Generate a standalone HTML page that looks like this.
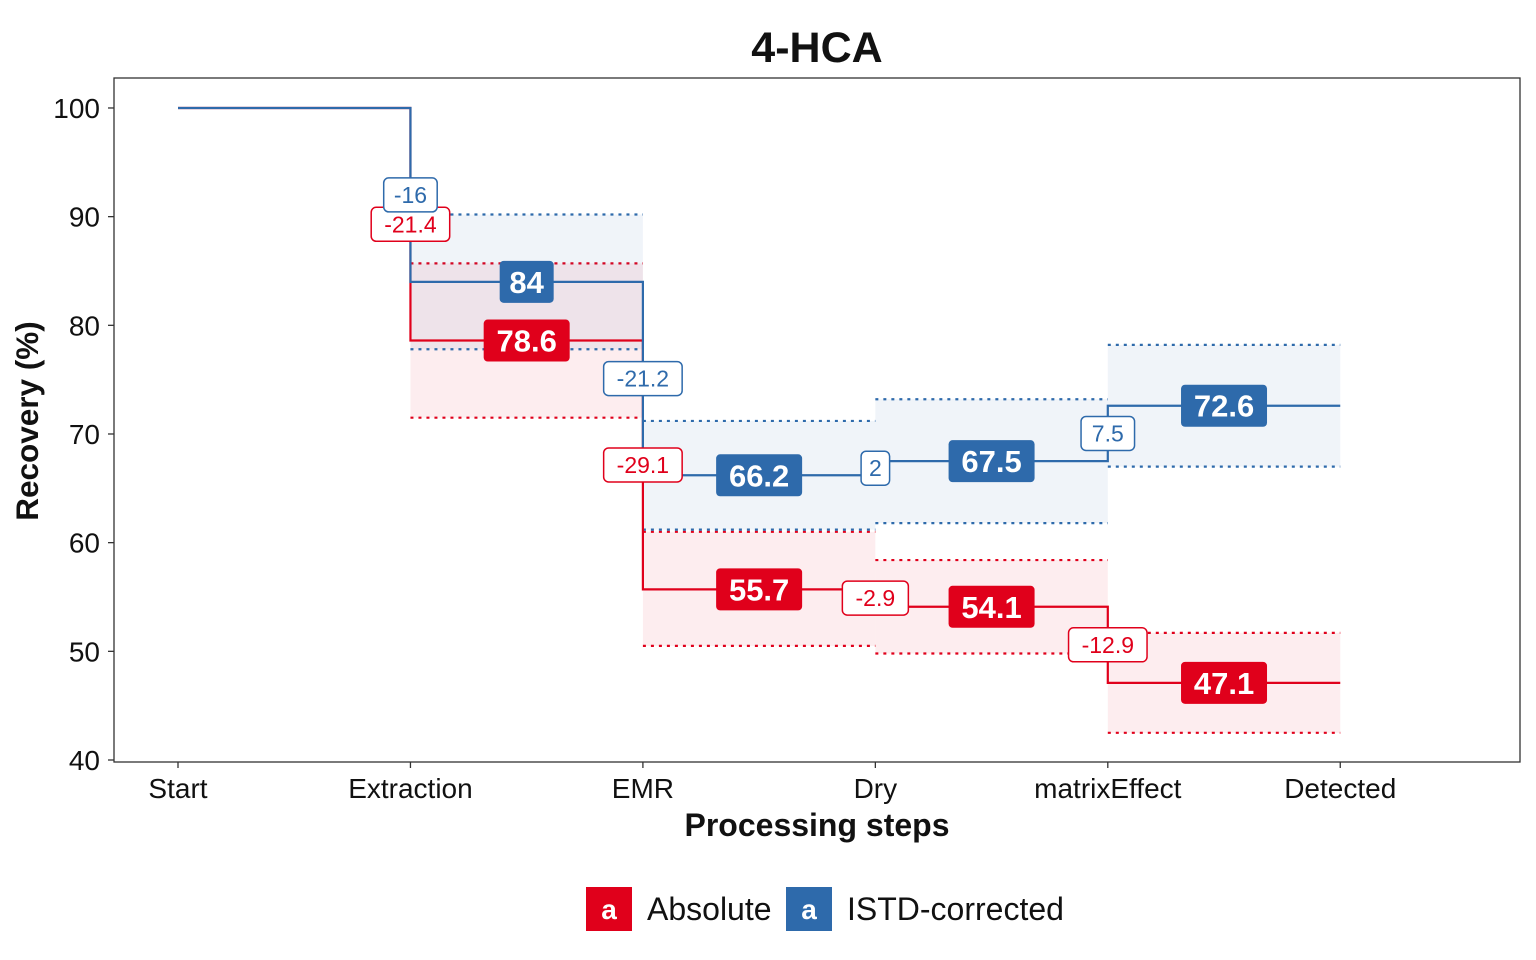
<!DOCTYPE html>
<html><head><meta charset="utf-8"><style>
html,body{margin:0;padding:0;background:#fff;}
svg{display:block;font-family:"Liberation Sans",Arial,sans-serif;}
</style></head><body>
<svg id="chart" width="1536" height="960" viewBox="0 0 1536 960">
<text x="817" y="62" text-anchor="middle" font-size="43" font-weight="bold" fill="#111">4-HCA</text>
<rect x="114" y="78" width="1406" height="684" fill="#fff" stroke="#333" stroke-width="1.3"/>
<g id="ribbons"></g><g id="lines"></g><g id="labels"></g><g id="axes"></g>
<text transform="translate(38,421) rotate(-90)" text-anchor="middle" font-size="31.5" font-weight="bold" fill="#111">Recovery (%)</text>
<text x="817" y="836" text-anchor="middle" font-size="32" font-weight="bold" fill="#111">Processing steps</text>
<g>
<g><rect x="586" y="887" width="46" height="44" fill="#E0001B"/><text x="609" y="919" text-anchor="middle" font-size="28" font-weight="bold" fill="#fff">a</text><text x="647" y="920" font-size="32" fill="#111">Absolute</text></g>
<g><rect x="786" y="887" width="46" height="44" fill="#2E6AAB"/><text x="809" y="919" text-anchor="middle" font-size="28" font-weight="bold" fill="#fff">a</text><text x="847" y="920" font-size="32" fill="#111">ISTD-corrected</text></g>
</g>
</svg>
<script>
const categories=["Start","Extraction","EMR","Dry","matrixEffect","Detected"];
const yTicks=[40,50,60,70,80,90,100];
const absValues=[100,78.6,55.7,54.1,47.1];
const absLow=[null,71.5,50.5,49.8,42.5];
const absHigh=[null,85.7,61.0,58.4,51.7];
const absChange=[null,-21.4,-29.1,-2.9,-12.9];
const istdValues=[100,84,66.2,67.5,72.6];
const istdLow=[null,77.8,61.2,61.8,67.0];
const istdHigh=[null,90.2,71.2,73.2,78.2];
const istdChange=[null,-16,-21.2,2,7.5];

const NS="http://www.w3.org/2000/svg";
const xs=i=>178+i*232.45;
const ys=v=>760-(v-40)*10.867;
function mk(p,tag,at){const e=document.createElementNS(NS,tag);for(const k in at)e.setAttribute(k,at[k]);p.appendChild(e);return e;}
const gR=document.getElementById('ribbons'),gL=document.getElementById('lines'),gT=document.getElementById('labels'),gA=document.getElementById('axes');

yTicks.forEach(t=>{
 const l=mk(gA,'line',{x1:108,x2:114,y1:ys(t),y2:ys(t),stroke:'#333','stroke-width':1.3});
 
 
 const tx=mk(gA,'text',{x:100,y:ys(t)+10,'text-anchor':'end','font-size':28,fill:'#111'});tx.textContent=t;
 
 
});
categories.forEach((c,i)=>{
 const l=mk(gA,'line',{x1:xs(i),x2:xs(i),y1:762,y2:768,stroke:'#333','stroke-width':1.3});
 
 
 const tx=mk(gA,'text',{x:xs(i),y:798,'text-anchor':'middle','font-size':28,fill:'#111'});tx.textContent=c;
 
 
});

function series(vals,low,high,chg,col,fill,name){
 for(let i=1;i<vals.length;i++){
  const r=mk(gR,'rect',{x:xs(i),y:ys(high[i]),width:xs(i+1)-xs(i),height:ys(low[i])-ys(high[i]),fill:fill});
  
  
  [low[i],high[i]].forEach(v=>{
   const d=mk(gR,'line',{x1:xs(i),x2:xs(i+1),y1:ys(v),y2:ys(v),stroke:col,'stroke-width':2.2,'stroke-dasharray':'3 5'});
   
   
  });
 }
 let d='M'+xs(0)+','+ys(vals[0]);
 for(let i=1;i<vals.length;i++){d+=' L'+xs(i)+','+ys(vals[i-1])+' L'+xs(i)+','+ys(vals[i])+' L'+xs(i+1)+','+ys(vals[i]);}
 const p=mk(gL,'path',{d:d,fill:'none',stroke:col,'stroke-width':2.2});
 
 
}
function labels(vals,chg,col,name){
 for(let i=1;i<vals.length;i++){
  const cx=(xs(i)+xs(i+1))/2,cy=ys(vals[i]);
  const s=String(vals[i]);const w=s.length*16+22;
  const g=mk(gT,'g',{});
  
  
  mk(g,'rect',{x:cx-w/2,y:cy-21,width:w,height:42,rx:4,fill:col});
  const t=mk(g,'text',{x:cx,y:cy+11,'text-anchor':'middle','font-size':31,'font-weight':'bold',fill:'#fff'});t.textContent=s;
  const mx=xs(i),my=ys((vals[i-1]+vals[i])/2);
  const s2=String(chg[i]);const w2=s2.length*12.5+16;
  const g2=mk(gT,'g',{});
  
  
  mk(g2,'rect',{x:mx-w2/2,y:my-17,width:w2,height:34,rx:5,fill:'#fff',stroke:col,'stroke-width':1.5});
  const t2=mk(g2,'text',{x:mx,y:my+8,'text-anchor':'middle','font-size':23,fill:col});t2.textContent=s2;
 }
}
series(absValues,absLow,absHigh,absChange,'#E0001B','rgba(224,0,27,0.07)','absolute');
series(istdValues,istdLow,istdHigh,istdChange,'#2E6AAB','rgba(46,106,171,0.07)','istd');
labels(absValues,absChange,'#E0001B','absolute');
labels(istdValues,istdChange,'#2E6AAB','istd');
</script>
</body></html>
